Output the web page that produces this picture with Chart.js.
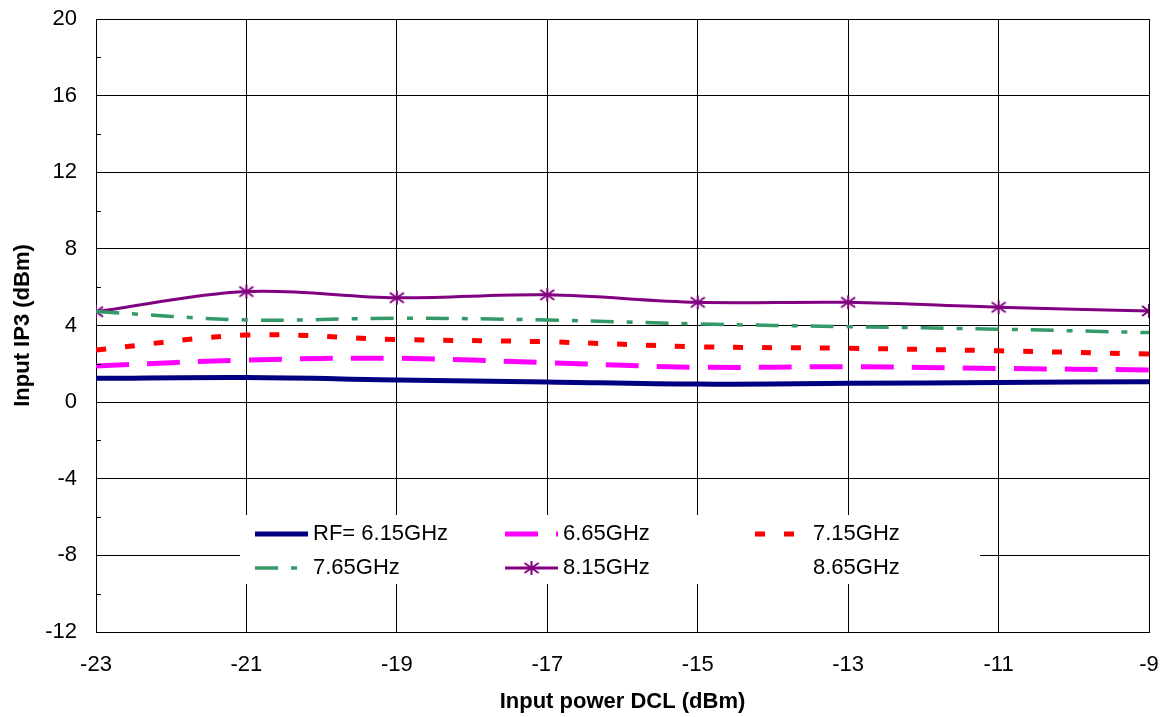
<!DOCTYPE html>
<html>
<head>
<meta charset="utf-8">
<title>Input IP3 vs input power</title>
<script src="https://cdn.jsdelivr.net/npm/chart.js@4/dist/chart.umd.min.js"></script>
<style>
    html, body { margin: 0; padding: 0; background: #fff; }
    #ip3-chart { display: block; }
</style>
</head>
<body>
<canvas id="ip3-chart" width="1161" height="717"></canvas>
<script>
// input power points (dBm)
const inputPower = [-23, -21, -19, -17, -15, -13, -11, -9];

const seriesLabels = ['RF= 6.15GHz', '6.65GHz', '7.15GHz', '7.65GHz', '8.15GHz', '8.65GHz'];

// input IP3 (dBm)
const ip3_615 = [1.24, 1.28, 1.16, 1.05, 0.94, 0.98, 1.02, 1.07];
const ip3_665 = [1.89, 2.20, 2.29, 2.06, 1.82, 1.85, 1.76, 1.68];
const ip3_715 = [2.72, 3.50, 3.27, 3.15, 2.89, 2.81, 2.68, 2.51];
const ip3_765 = [4.73, 4.29, 4.38, 4.29, 4.08, 3.94, 3.81, 3.63];
const ip3_815 = [4.72, 5.77, 5.45, 5.60, 5.21, 5.21, 4.95, 4.76];
const ip3_865 = [];

const xTicks = { min: -23, max: -9, step: 2 };
const yTicks = { min: -12, max: 20, step: 4, minor: 2 };

Chart.defaults.font.family = '"Liberation Sans", Arial, Helvetica, sans-serif';
Chart.defaults.font.size = 22;
Chart.defaults.color = '#000';

function toPoints(values) {
    return values.map((y, i) => ({ x: inputPower[i], y: y }));
}

// six-spoke asterisk like the spreadsheet marker
function makeAsterisk(color) {
    const c = document.createElement('canvas');
    c.width = 16;
    c.height = 16;
    const g = c.getContext('2d');
    g.strokeStyle = color;
    g.lineWidth = 2;
    g.beginPath();
    g.moveTo(8, 1); g.lineTo(8, 15);
    g.moveTo(1, 3); g.lineTo(15, 13);
    g.moveTo(1, 13); g.lineTo(15, 3);
    g.stroke();
    return c;
}

const minorTicks = {
    id: 'minorTicks',
    afterDraw(chart) {
        const y = chart.scales.y;
        const left = chart.chartArea.left;
        const ctx = chart.ctx;
        ctx.save();
        ctx.strokeStyle = '#000';
        ctx.lineWidth = 1;
        ctx.beginPath();
        for (let v = yTicks.min; v <= yTicks.max; v += yTicks.minor) {
            if (v % yTicks.step === 0) continue;
            const py = Math.round(y.getPixelForValue(v)) + 0.5;
            ctx.moveTo(left, py);
            ctx.lineTo(left + 5, py);
        }
        ctx.stroke();
        ctx.restore();
    }
};

// legend box sitting inside the plot area
const insideLegend = {
    id: 'insideLegend',
    afterDraw(chart, args, opts) {
        const ctx = chart.ctx;
        ctx.save();
        ctx.fillStyle = '#fff';
        ctx.fillRect(opts.left, opts.top, opts.width, opts.height);

        chart.data.datasets.forEach((ds, i) => {
            const col = i % 3;
            const row = Math.floor(i / 3);
            const x = opts.left + opts.padX + col * opts.colWidth;
            const y = opts.top + opts.rowTop + row * opts.rowHeight;

            if (ds.data.length) {
                ctx.save();
                ctx.strokeStyle = ds.borderColor;
                ctx.lineWidth = ds.borderWidth;
                ctx.setLineDash(ds.borderDash || []);
                ctx.beginPath();
                ctx.moveTo(x, y);
                ctx.lineTo(x + opts.sample, y);
                ctx.stroke();
                ctx.restore();
                if (ds.pointStyle instanceof HTMLCanvasElement) {
                    const img = ds.pointStyle;
                    ctx.drawImage(img, x + opts.sample / 2 - img.width / 2, y - img.height / 2);
                }
            }

            ctx.fillStyle = '#000';
            ctx.font = '22px "Liberation Sans", Arial, sans-serif';
            ctx.textBaseline = 'middle';
            ctx.textAlign = 'left';
            ctx.fillText(ds.label, x + opts.textGap, y);
        });
        ctx.restore();
    }
};

const asterisk = makeAsterisk('#800080');

const datasets = [
    { label: seriesLabels[0], data: toPoints(ip3_615), borderColor: '#000080', borderWidth: 5 },
    { label: seriesLabels[1], data: toPoints(ip3_665), borderColor: '#ff00ff', borderWidth: 5, borderDash: [33, 18] },
    { label: seriesLabels[2], data: toPoints(ip3_715), borderColor: '#ff0000', borderWidth: 5, borderDash: [10, 19] },
    { label: seriesLabels[3], data: toPoints(ip3_765), borderColor: '#339966', borderWidth: 3.5, borderDash: [23, 13, 6, 13] },
    { label: seriesLabels[4], data: toPoints(ip3_815), borderColor: '#800080', borderWidth: 3,
      pointStyle: asterisk, pointRadius: 7 },
    { label: seriesLabels[5], data: toPoints(ip3_865), borderColor: 'rgba(0,0,0,0)', borderWidth: 0 }
].map(ds => Object.assign({
    fill: false,
    tension: 0.35,
    pointRadius: 0,
    backgroundColor: ds.borderColor,
    borderCapStyle: 'butt'
}, ds));

const ctx = document.getElementById('ip3-chart').getContext('2d');

const ip3Chart = new Chart(ctx, {
    type: 'line',
    data: { datasets: datasets },
    plugins: [minorTicks, insideLegend],
    options: {
        responsive: false,
        animation: false,
        layout: {
            padding: { left: 0, right: 12, top: 19, bottom: 0 }
        },
        plugins: {
            legend: { display: false },
            tooltip: { enabled: false },
            insideLegend: {
                left: 240, top: 515, width: 740, height: 69,
                padX: 15, colWidth: 250, rowTop: 19, rowHeight: 34,
                sample: 53, textGap: 58
            }
        },
        scales: {
            x: {
                type: 'linear',
                min: xTicks.min,
                max: xTicks.max,
                afterFit: scale => {
                    scale.height = 85;
                    scale.paddingLeft = 0;
                    scale.paddingRight = 0;
                },
                border: { display: true, color: '#000', width: 1 },
                grid: { color: '#000', lineWidth: 1, drawTicks: false },
                ticks: {
                    stepSize: xTicks.step,
                    padding: 20,
                    autoSkip: false,
                    maxRotation: 0
                },
                title: {
                    display: true,
                    text: 'Input power DCL (dBm)',
                    font: { weight: 'bold', size: 22 },
                    padding: { top: 0, bottom: 2 }
                }
            },
            y: {
                min: yTicks.min,
                max: yTicks.max,
                afterFit: scale => {
                    scale.width = 96;
                    scale.paddingTop = 0;
                    scale.paddingBottom = 0;
                },
                border: { display: true, color: '#000', width: 1 },
                grid: { color: '#000', lineWidth: 1, drawTicks: false },
                ticks: {
                    stepSize: yTicks.step,
                    padding: 19,
                    autoSkip: false
                },
                title: {
                    display: true,
                    text: 'Input IP3 (dBm)',
                    font: { weight: 'bold', size: 22 },
                    padding: { top: 10, bottom: 0 }
                }
            }
        }
    }
});
</script>
</body>
</html>
